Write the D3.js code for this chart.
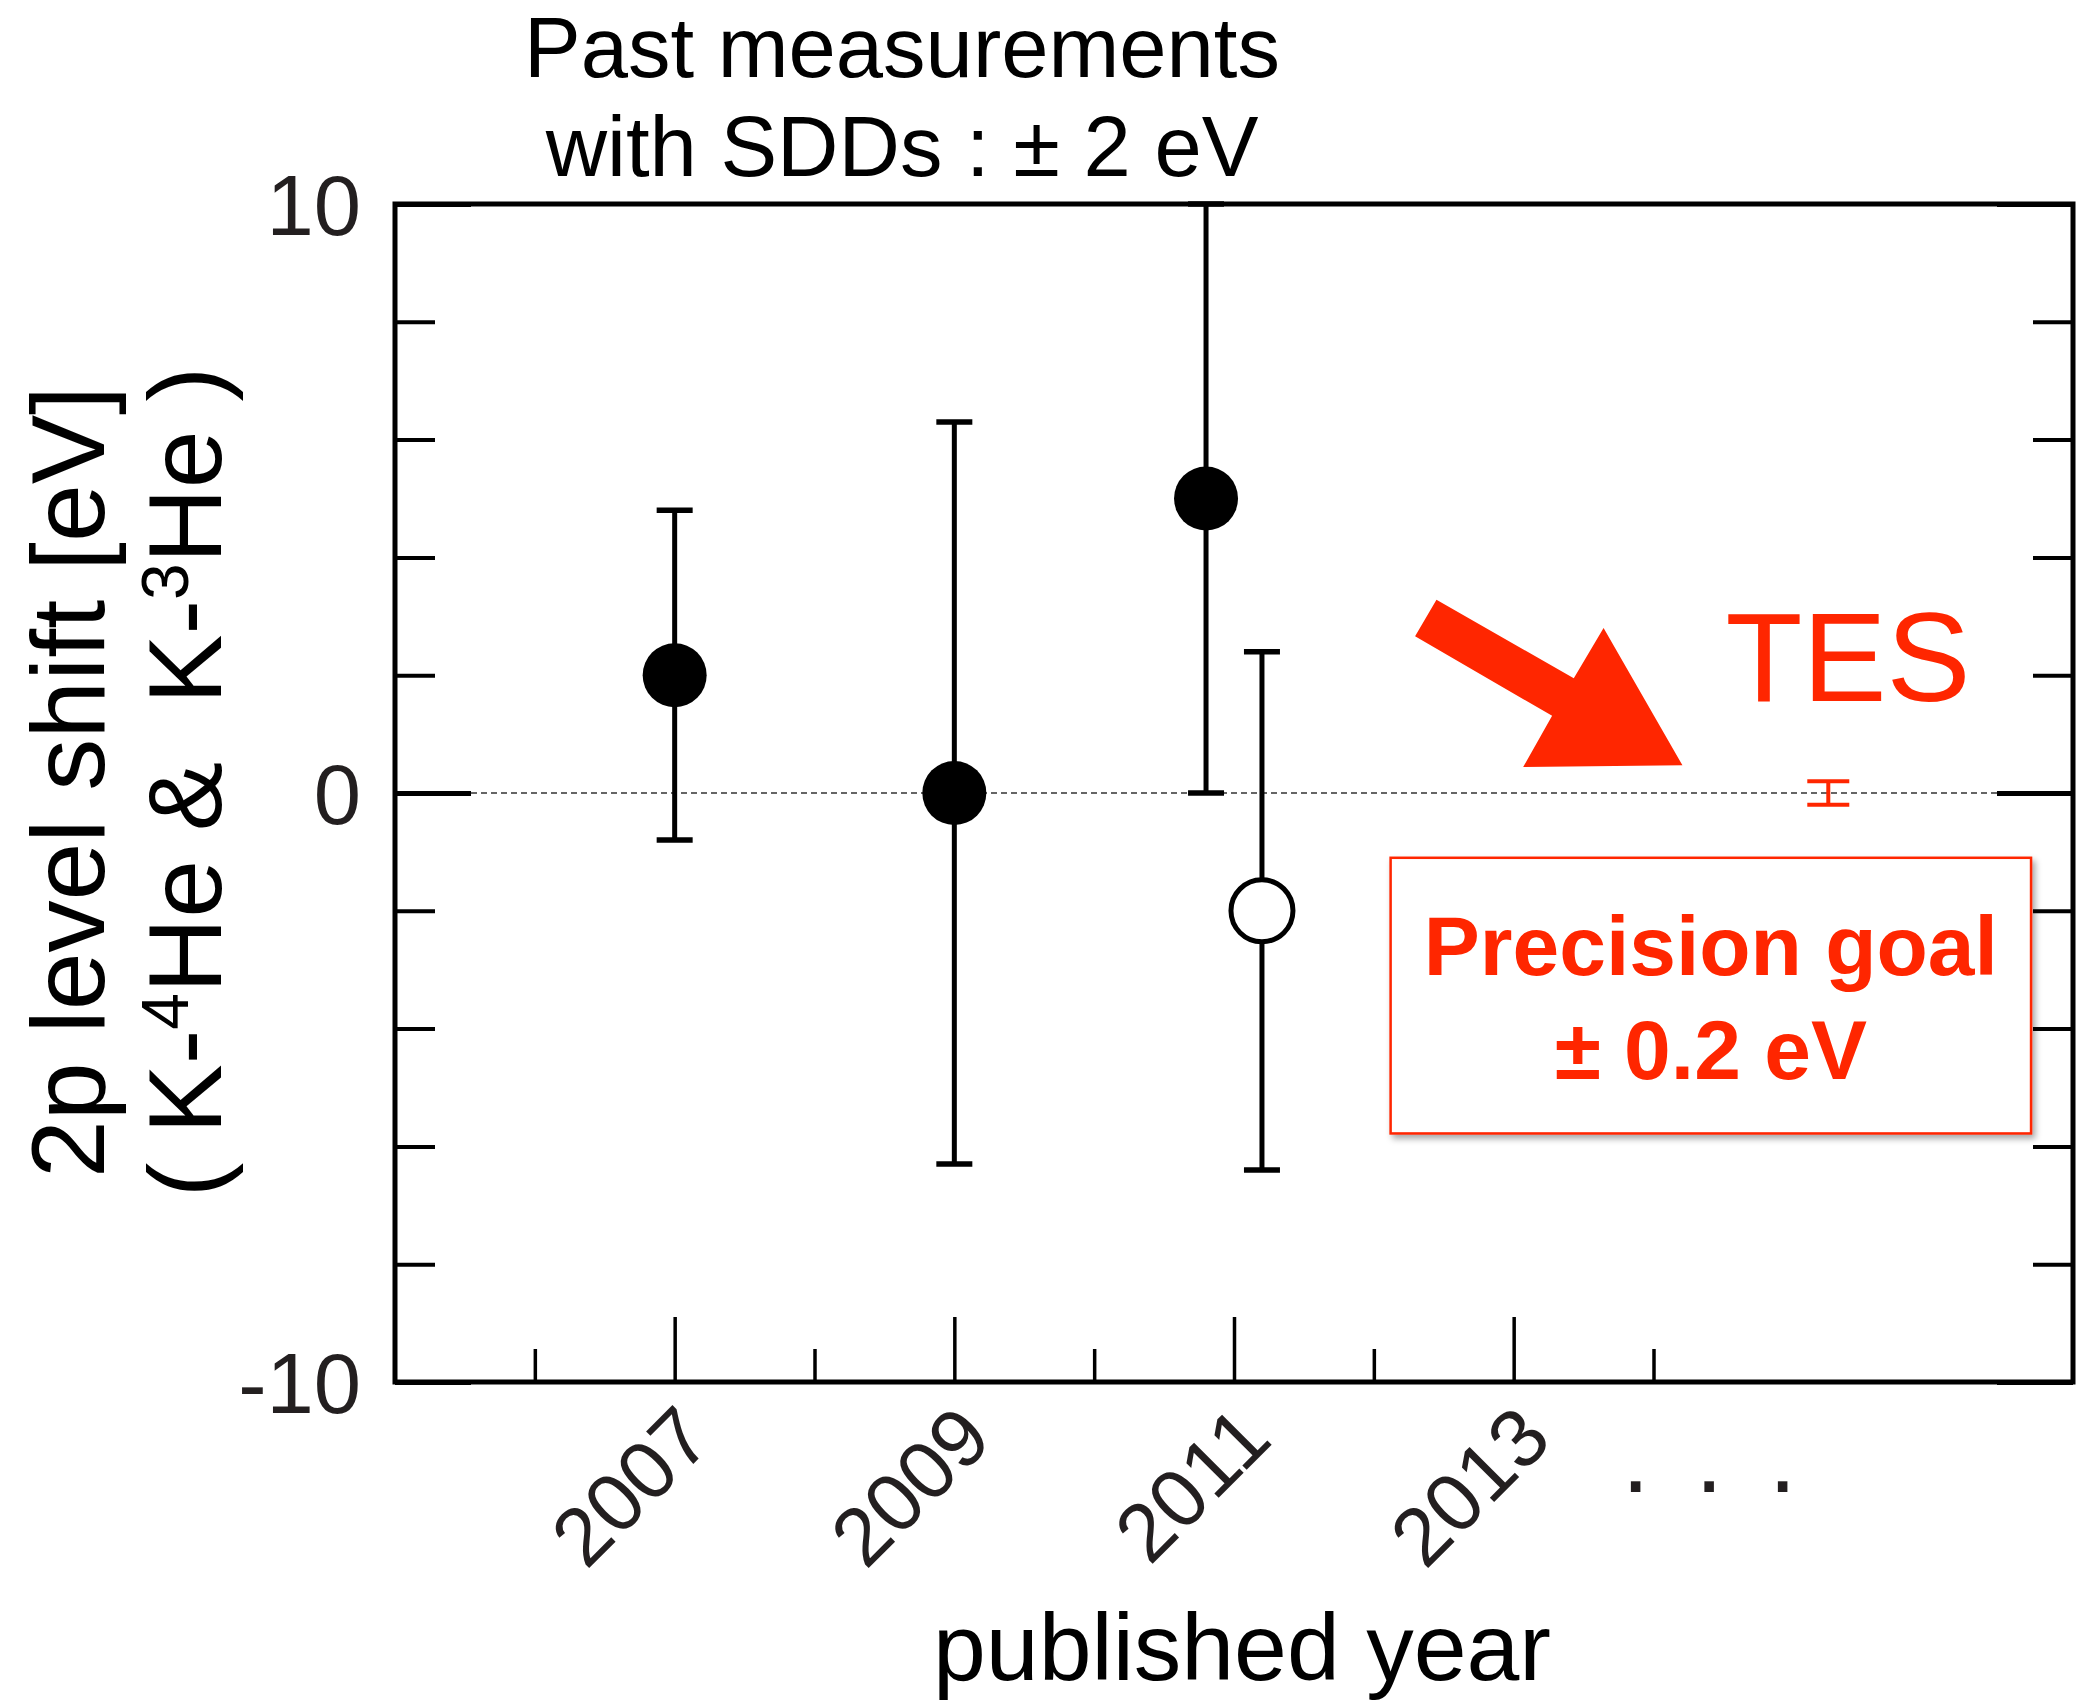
<!DOCTYPE html>
<html>
<head>
<meta charset="utf-8">
<script src="https://cdn.jsdelivr.net/npm/d3@7"></script>
<style>
  body { margin: 0; background: #ffffff; }
  text { font-family: "Liberation Sans", Arial, Helvetica, sans-serif; }
</style>
</head>
<body>
<svg id="grafico" width="2078" height="1700"></svg>
<script>
// medidas passadas (SDD): ano de publicacao, deslocamento e erro em eV
var anos = [2007, 2009, 2010.8, 2011.2];
var deslocamentos = [2.0, 0.0, 5.0, -2.0];
var erros = [2.8, 6.3, 5.0, 4.4];
var preenchidos = [true, true, true, false];

// meta do TES
var anosTes = [2015.25];
var deslocamentosTes = [0];
var errosTes = [0.2];

// eixos
var yTicksMaiores = [-10, 0, 10];
var yTicksMenores = [-8, -6, -4, -2, 2, 4, 6, 8];
var xTicksMaiores = [2007, 2009, 2011, 2013];
var xTicksMenores = [2006, 2008, 2010, 2012, 2014];
var xDominio = [2005, 2017];
var yDominio = [-10, 10];

// seta de anotacao (ano, eV)
var setaPontos = [
    [2012.448, 3.28], [2012.295, 2.66], [2013.275, 1.31], [2013.068, 0.44],
    [2014.207, 0.47], [2013.643, 2.80], [2013.430, 1.95]
];

var vermelho = "#ff2600";

function desenharGrafico() {
    var svg = d3.select("#grafico");
    var esquerda = 395, direita = 2073, topo = 204, base = 1382;

    var x = d3.scaleLinear().domain(xDominio).range([esquerda, direita]);
    var y = d3.scaleLinear().domain(yDominio).range([base, topo]);

    var defs = svg.append("defs");
    var filtro = defs.append("filter").attr("id", "sombra")
        .attr("x", "-10%").attr("y", "-10%").attr("width", "130%").attr("height", "130%");
    filtro.append("feDropShadow")
        .attr("dx", 3).attr("dy", 4).attr("stdDeviation", 3)
        .attr("flood-color", "#000").attr("flood-opacity", 0.35);

    // titulo
    var titulo = svg.append("text")
        .attr("text-anchor", "middle")
        .style("font-size", "85px");
    titulo.append("tspan").attr("x", 902).attr("y", 77).text("Past measurements");
    titulo.append("tspan").attr("x", 902).attr("y", 176).text("with SDDs : \u00b1 2 eV");

    // linha tracejada em zero
    svg.append("line")
        .attr("x1", esquerda + 76).attr("x2", direita - 76)
        .attr("y1", y(0)).attr("y2", y(0))
        .attr("stroke", "#333").attr("stroke-width", 1.5)
        .attr("stroke-dasharray", "6,4");

    // eixos (ticks para dentro)
    function estilo(g, largura) {
        g.select(".domain").remove();
        g.selectAll(".tick line").attr("stroke", "#000").attr("stroke-width", largura);
        g.selectAll(".tick text").attr("fill", "#231f20")
            .style("font-family", "'Liberation Sans', Arial, sans-serif");
    }

    svg.append("g")
        .attr("transform", "translate(" + esquerda + ",0)")
        .call(d3.axisLeft(y).tickValues(yTicksMenores).tickSize(-40).tickFormat(""))
        .call(estilo, 4);
    svg.append("g")
        .attr("transform", "translate(" + esquerda + ",0)")
        .call(d3.axisLeft(y).tickValues(yTicksMaiores).tickSize(-76).tickPadding(34)
            .tickFormat(function (d) { return String(d); }))
        .call(estilo, 5)
        .selectAll(".tick text")
        .style("font-size", "85px")
        .attr("dy", "0.36em");

    svg.append("g")
        .attr("transform", "translate(" + direita + ",0)")
        .call(d3.axisRight(y).tickValues(yTicksMenores).tickSize(-40).tickFormat(""))
        .call(estilo, 4);
    svg.append("g")
        .attr("transform", "translate(" + direita + ",0)")
        .call(d3.axisRight(y).tickValues(yTicksMaiores).tickSize(-76).tickFormat(""))
        .call(estilo, 5);

    svg.append("g")
        .attr("transform", "translate(0," + base + ")")
        .call(d3.axisBottom(x).tickValues(xTicksMenores).tickSize(-33).tickFormat(""))
        .call(estilo, 3.5);
    svg.append("g")
        .attr("transform", "translate(0," + base + ")")
        .call(d3.axisBottom(x).tickValues(xTicksMaiores).tickSize(-65)
            .tickFormat(function (d) { return String(d); }))
        .call(estilo, 3.5)
        .selectAll(".tick text")
        .style("font-size", "82px")
        .attr("y", null).attr("dy", null)
        .attr("text-anchor", "end")
        .attr("transform", "translate(40,60) rotate(-45)");

    // moldura
    svg.append("rect")
        .attr("x", esquerda).attr("y", topo)
        .attr("width", direita - esquerda).attr("height", base - topo)
        .attr("fill", "none").attr("stroke", "#000").attr("stroke-width", 5);

    // reticencias depois de 2013 (tres pontos separados por ~74px)
    svg.append("text")
        .attr("x", x(2014.43)).attr("y", base + 110)
        .attr("text-anchor", "middle")
        .style("font-size", "100px")
        .style("letter-spacing", "9px")
        .attr("fill", "#231f20")
        .text(". . .");

    // titulos dos eixos
    svg.append("text")
        .attr("x", 1242).attr("y", 1680)
        .attr("text-anchor", "middle")
        .style("font-size", "95px")
        .text("published year");

    svg.append("text")
        .attr("transform", "translate(104,782) rotate(-90)")
        .attr("text-anchor", "middle")
        .style("font-size", "104px")
        .text("2p level shift [eV]");

    var rotulo2 = svg.append("text")
        .attr("transform", "translate(221,782) rotate(-90)")
        .attr("text-anchor", "middle")
        .style("font-size", "104px")
        .style("white-space", "pre");
    rotulo2.append("tspan").text("( K-");
    rotulo2.append("tspan").attr("dy", -33).style("font-size", "66px").text("4");
    rotulo2.append("tspan").attr("dy", 33).text("He &  K-");
    rotulo2.append("tspan").attr("dy", -33).style("font-size", "66px").text("3");
    rotulo2.append("tspan").attr("dy", 33).text("He )");

    // barras de erro + pontos
    var medidas = anos.map(function (a, i) {
        return { ano: a, valor: deslocamentos[i], erro: erros[i], cheio: preenchidos[i] };
    });

    var grupos = svg.selectAll("g.medida")
        .data(medidas)
        .enter()
        .append("g")
        .attr("class", "medida");

    grupos.append("line")
        .attr("x1", function (d) { return x(d.ano); })
        .attr("x2", function (d) { return x(d.ano); })
        .attr("y1", function (d) { return y(d.valor + d.erro); })
        .attr("y2", function (d) { return y(d.valor - d.erro); })
        .attr("stroke", "#000").attr("stroke-width", 5);

    [1, -1].forEach(function (s) {
        grupos.append("line")
            .attr("x1", function (d) { return x(d.ano) - 18; })
            .attr("x2", function (d) { return x(d.ano) + 18; })
            .attr("y1", function (d) { return y(d.valor + s * d.erro); })
            .attr("y2", function (d) { return y(d.valor + s * d.erro); })
            .attr("stroke", "#000").attr("stroke-width", 5.5);
    });

    grupos.append("circle")
        .attr("cx", function (d) { return x(d.ano); })
        .attr("cy", function (d) { return y(d.valor); })
        .attr("r", function (d) { return d.cheio ? 32 : 31; })
        .attr("fill", function (d) { return d.cheio ? "#000" : "#fff"; })
        .attr("stroke", "#000")
        .attr("stroke-width", function (d) { return d.cheio ? 0 : 5; });

    // TES
    var tes = anosTes.map(function (a, i) {
        return { ano: a, valor: deslocamentosTes[i], erro: errosTes[i] };
    });
    var gTes = svg.selectAll("g.tes").data(tes).enter().append("g").attr("class", "tes");
    gTes.append("line")
        .attr("x1", function (d) { return x(d.ano); })
        .attr("x2", function (d) { return x(d.ano); })
        .attr("y1", function (d) { return y(d.valor + d.erro); })
        .attr("y2", function (d) { return y(d.valor - d.erro); })
        .attr("stroke", vermelho).attr("stroke-width", 4);
    [1, -1].forEach(function (s) {
        gTes.append("line")
            .attr("x1", function (d) { return x(d.ano) - 21; })
            .attr("x2", function (d) { return x(d.ano) + 21; })
            .attr("y1", function (d) { return y(d.valor + s * d.erro); })
            .attr("y2", function (d) { return y(d.valor + s * d.erro); })
            .attr("stroke", vermelho).attr("stroke-width", 4);
    });

    // seta
    svg.append("polygon")
        .attr("points", setaPontos.map(function (p) { return x(p[0]) + "," + y(p[1]); }).join(" "))
        .attr("fill", vermelho);

    svg.append("text")
        .attr("x", x(2014.515)).attr("y", y(1.56))
        .style("font-size", "126px")
        .attr("fill", vermelho)
        .text("TES");

    // caixa da meta de precisao
    svg.append("rect")
        .attr("x", x(2012.12)).attr("y", y(-1.10))
        .attr("width", x(2016.70) - x(2012.12))
        .attr("height", y(-5.78) - y(-1.10))
        .attr("fill", "#fff")
        .attr("stroke", vermelho).attr("stroke-width", 2.5)
        .attr("filter", "url(#sombra)");

    var caixaTexto = svg.append("text")
        .attr("text-anchor", "middle")
        .attr("fill", vermelho)
        .style("font-size", "84px")
        .style("font-weight", "bold");
    caixaTexto.append("tspan").attr("x", x(2014.41)).attr("y", y(-3.09)).text("Precision goal");
    caixaTexto.append("tspan").attr("x", x(2014.41)).attr("y", y(-4.85)).text("\u00b1 0.2 eV");
}

desenharGrafico();
</script>
</body>
</html>
